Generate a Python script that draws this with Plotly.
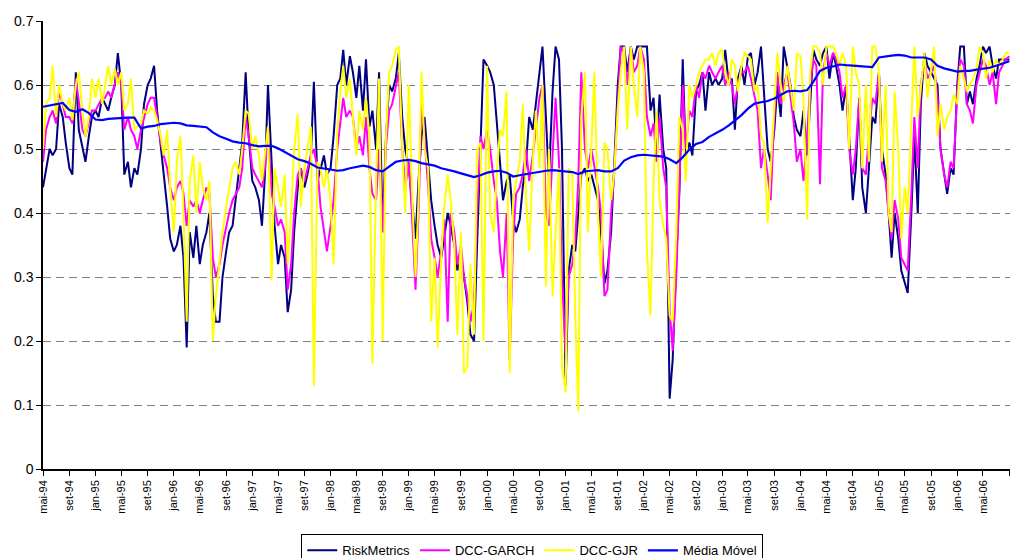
import pandas as pd
import plotly.graph_objects as go

# semi-monthly sampling dates (1st and 15th), mai-94 .. set-06
dates = pd.date_range("1994-05-01", periods=297, freq="SMS")
ma_dates = pd.date_range("1994-05-01", periods=149, freq="MS")

risk_metrics = [
    0.44, 0.47, 0.50, 0.49, 0.50, 0.57, 0.55, 0.51,
    0.47, 0.46, 0.62, 0.53, 0.50, 0.48, 0.52, 0.55,
    0.56, 0.55, 0.58, 0.57, 0.56, 0.58, 0.60, 0.65,
    0.60, 0.46, 0.48, 0.44, 0.47, 0.46, 0.50, 0.57,
    0.60, 0.61, 0.63, 0.56, 0.50, 0.46, 0.41, 0.36,
    0.34, 0.35, 0.38, 0.33, 0.19, 0.37, 0.33, 0.38,
    0.32, 0.35, 0.37, 0.40, 0.27, 0.23, 0.23, 0.30,
    0.34, 0.37, 0.38, 0.42, 0.47, 0.51, 0.62, 0.52,
    0.45, 0.44, 0.42, 0.38, 0.46, 0.60, 0.48, 0.38,
    0.32, 0.35, 0.33, 0.245, 0.28, 0.37, 0.44, 0.47,
    0.44, 0.46, 0.49, 0.605, 0.45, 0.47, 0.49, 0.46,
    0.47, 0.52, 0.60, 0.61, 0.655, 0.60, 0.645, 0.62,
    0.58, 0.63, 0.56, 0.64, 0.535, 0.56, 0.50, 0.62,
    0.37, 0.51, 0.60, 0.59, 0.61, 0.65, 0.55, 0.50,
    0.47, 0.42, 0.36, 0.45, 0.52, 0.55, 0.47, 0.42,
    0.38, 0.35, 0.33, 0.36, 0.40, 0.38, 0.35, 0.31,
    0.33, 0.30, 0.26, 0.21, 0.20, 0.35, 0.50, 0.64,
    0.63, 0.62, 0.60, 0.54, 0.47, 0.42, 0.45, 0.46,
    0.39, 0.37, 0.39, 0.44, 0.48, 0.55, 0.53, 0.57,
    0.62, 0.66, 0.55, 0.45, 0.59, 0.66, 0.64, 0.50,
    0.13, 0.31, 0.35, 0.34, 0.40, 0.46, 0.47, 0.45,
    0.46, 0.44, 0.42, 0.37, 0.29, 0.31, 0.37, 0.47,
    0.60, 0.66, 0.66, 0.62, 0.66, 0.64, 0.66, 0.66,
    0.66, 0.66, 0.56, 0.58, 0.50, 0.585, 0.50, 0.47,
    0.11, 0.17, 0.33, 0.43, 0.64, 0.49, 0.51, 0.49,
    0.59, 0.60, 0.62, 0.56, 0.62, 0.60, 0.61, 0.60,
    0.61, 0.655, 0.60, 0.61, 0.53, 0.61, 0.63, 0.60,
    0.645, 0.65, 0.60, 0.62, 0.66, 0.58, 0.50, 0.48,
    0.53, 0.60, 0.55, 0.66, 0.63, 0.60, 0.55, 0.53,
    0.52, 0.56, 0.49, 0.58, 0.655, 0.64, 0.63, 0.65,
    0.66, 0.61, 0.65, 0.63, 0.60, 0.56, 0.60, 0.52,
    0.42, 0.47, 0.58, 0.44, 0.40, 0.47, 0.55, 0.54,
    0.62, 0.50, 0.46, 0.40, 0.33, 0.40, 0.36, 0.31,
    0.29, 0.275, 0.40, 0.52, 0.40, 0.57, 0.65, 0.63,
    0.62, 0.61, 0.60, 0.50, 0.46, 0.43, 0.47, 0.46,
    0.60, 0.66, 0.66, 0.57, 0.59, 0.57, 0.61, 0.63,
    0.66, 0.65, 0.66, 0.63, 0.61, 0.64, 0.64, 0.64,
    0.64,
]

dcc_garch = [
    0.48, 0.53, 0.55, 0.56, 0.54, 0.59, 0.57, 0.55,
    0.55, 0.54, 0.61, 0.57, 0.53, 0.52, 0.54, 0.56,
    0.56, 0.57, 0.58, 0.58, 0.59, 0.58, 0.60, 0.62,
    0.60, 0.53, 0.55, 0.53, 0.52, 0.50, 0.53, 0.55,
    0.57, 0.58, 0.58, 0.55, 0.51, 0.49, 0.47, 0.44,
    0.42, 0.44, 0.45, 0.43, 0.38, 0.42, 0.41, 0.42,
    0.40, 0.42, 0.44, 0.43, 0.33, 0.30, 0.32, 0.35,
    0.38, 0.40, 0.42, 0.43, 0.44, 0.47, 0.55, 0.52,
    0.47, 0.46, 0.45, 0.44, 0.47, 0.53, 0.43, 0.41,
    0.38, 0.39, 0.37, 0.28, 0.32, 0.40, 0.46, 0.47,
    0.45, 0.47, 0.49, 0.50, 0.47, 0.41, 0.37, 0.34,
    0.38, 0.42, 0.50, 0.54, 0.58, 0.55, 0.56, 0.55,
    0.50, 0.52, 0.49, 0.55, 0.47, 0.43, 0.42, 0.50,
    0.37, 0.50, 0.56, 0.57, 0.60, 0.62, 0.50, 0.44,
    0.48, 0.40, 0.28, 0.40, 0.57, 0.52, 0.44, 0.36,
    0.33, 0.30, 0.34, 0.39, 0.23, 0.40, 0.37, 0.32,
    0.35, 0.30, 0.27, 0.23, 0.26, 0.40, 0.52, 0.50,
    0.53, 0.50, 0.45, 0.42, 0.34, 0.30, 0.40, 0.17,
    0.36, 0.43, 0.44, 0.46, 0.50, 0.45, 0.49, 0.53,
    0.58, 0.60, 0.40, 0.38, 0.50, 0.58, 0.48, 0.30,
    0.18, 0.30, 0.32, 0.36, 0.45, 0.62, 0.50, 0.47,
    0.50, 0.47, 0.44, 0.40, 0.27, 0.28, 0.40, 0.46,
    0.58, 0.66, 0.65, 0.60, 0.66, 0.62, 0.63, 0.66,
    0.64, 0.55, 0.52, 0.54, 0.48, 0.55, 0.47, 0.44,
    0.25, 0.185, 0.30, 0.45, 0.60, 0.50, 0.56, 0.55,
    0.60, 0.58, 0.62, 0.61, 0.63, 0.62, 0.61, 0.62,
    0.63, 0.60, 0.62, 0.60, 0.57, 0.60, 0.62, 0.62,
    0.63, 0.61, 0.58, 0.56, 0.47, 0.50, 0.46, 0.42,
    0.55, 0.62, 0.57, 0.60, 0.62, 0.58, 0.54, 0.48,
    0.50, 0.45, 0.52, 0.60, 0.64, 0.63, 0.445, 0.62,
    0.65, 0.63, 0.65, 0.64, 0.62, 0.58, 0.60, 0.50,
    0.46, 0.50, 0.58, 0.47, 0.46, 0.52, 0.58, 0.57,
    0.62, 0.47, 0.45, 0.40, 0.36, 0.42, 0.39, 0.33,
    0.32, 0.31, 0.43, 0.55, 0.47, 0.60, 0.64, 0.61,
    0.62, 0.63, 0.58, 0.50, 0.46, 0.44, 0.48, 0.47,
    0.59, 0.64, 0.63, 0.57, 0.56, 0.54, 0.60, 0.62,
    0.64, 0.63, 0.60, 0.62, 0.57, 0.62, 0.63, 0.64,
    0.645,
]

dcc_gjr = [
    0.50, 0.57, 0.58, 0.63, 0.55, 0.60, 0.57, 0.56,
    0.58, 0.545, 0.60, 0.62, 0.56, 0.52, 0.55, 0.61,
    0.58, 0.61, 0.57, 0.60, 0.63, 0.60, 0.625, 0.60,
    0.62, 0.56, 0.57, 0.61, 0.53, 0.535, 0.54, 0.56,
    0.555, 0.565, 0.56, 0.545, 0.52, 0.49, 0.53, 0.44,
    0.37, 0.48, 0.52, 0.40, 0.23, 0.45, 0.49, 0.40,
    0.48, 0.44, 0.42, 0.45, 0.20, 0.27, 0.33, 0.37,
    0.41, 0.44, 0.47, 0.48, 0.46, 0.50, 0.56, 0.555,
    0.50, 0.52, 0.49, 0.45, 0.49, 0.535, 0.295, 0.47,
    0.44, 0.41, 0.46, 0.32, 0.40, 0.50, 0.555, 0.41,
    0.47, 0.50, 0.535, 0.13, 0.48, 0.47, 0.44, 0.47,
    0.42, 0.32, 0.525, 0.59, 0.63, 0.58, 0.61, 0.55,
    0.49, 0.56, 0.53, 0.58, 0.52, 0.165, 0.45, 0.61,
    0.20, 0.51, 0.62, 0.63, 0.655, 0.66, 0.50, 0.40,
    0.60, 0.44, 0.30, 0.42, 0.62, 0.50, 0.47, 0.23,
    0.33, 0.19, 0.33, 0.41, 0.46, 0.42, 0.35, 0.21,
    0.37, 0.15, 0.16, 0.32, 0.21, 0.50, 0.51, 0.20,
    0.63, 0.40, 0.37, 0.46, 0.53, 0.52, 0.59, 0.15,
    0.42, 0.45, 0.48, 0.57, 0.42, 0.34, 0.48, 0.56,
    0.47, 0.60, 0.285, 0.50, 0.27, 0.37, 0.47, 0.16,
    0.12, 0.47, 0.46, 0.24, 0.09, 0.55, 0.62, 0.37,
    0.50, 0.62, 0.40, 0.30, 0.51, 0.50, 0.42, 0.46,
    0.56, 0.62, 0.66, 0.53, 0.66, 0.60, 0.55, 0.66,
    0.62, 0.34, 0.24, 0.45, 0.56, 0.42, 0.38, 0.36,
    0.24, 0.23, 0.37, 0.55, 0.53, 0.45, 0.60, 0.58,
    0.60, 0.62, 0.63, 0.64, 0.64, 0.65, 0.63, 0.65,
    0.655, 0.62, 0.60, 0.64, 0.63, 0.59, 0.63, 0.65,
    0.645, 0.64, 0.59, 0.60, 0.52, 0.51, 0.385, 0.47,
    0.58, 0.65, 0.60, 0.575, 0.63, 0.60, 0.56, 0.65,
    0.645, 0.58, 0.39, 0.62, 0.66, 0.66, 0.65, 0.60,
    0.66, 0.66, 0.66, 0.65, 0.63, 0.65, 0.63, 0.50,
    0.66, 0.62, 0.60, 0.47, 0.60, 0.48, 0.66, 0.66,
    0.62, 0.48, 0.60, 0.40, 0.37, 0.59, 0.50, 0.36,
    0.44, 0.40, 0.55, 0.66, 0.55, 0.60, 0.65, 0.58,
    0.62, 0.66, 0.52, 0.57, 0.53, 0.55, 0.56, 0.585,
    0.57, 0.63, 0.61, 0.59, 0.60, 0.61, 0.625, 0.66,
    0.65, 0.61, 0.64, 0.62, 0.64, 0.63, 0.64, 0.65,
    0.65,
]

media_movel = [
    0.566, 0.568, 0.571, 0.572, 0.561, 0.558, 0.562, 0.556, 0.546, 0.545, 0.547, 0.548,
    0.548, 0.549, 0.549, 0.532, 0.535, 0.536, 0.539, 0.540, 0.541, 0.540, 0.537, 0.536,
    0.535, 0.534, 0.526, 0.520, 0.516, 0.512, 0.510, 0.509, 0.506, 0.504, 0.505, 0.505,
    0.501, 0.495, 0.489, 0.484, 0.481, 0.477, 0.471, 0.470, 0.468, 0.466, 0.467, 0.470,
    0.472, 0.474, 0.472, 0.467, 0.465, 0.472, 0.480, 0.482, 0.483, 0.481, 0.478, 0.476,
    0.474, 0.470, 0.468, 0.465, 0.462, 0.459, 0.456, 0.459, 0.463, 0.465, 0.466, 0.463,
    0.457, 0.459, 0.461, 0.462, 0.464, 0.466, 0.467, 0.466, 0.465, 0.464, 0.461, 0.465,
    0.466, 0.467, 0.465, 0.465, 0.470, 0.482, 0.487, 0.490, 0.491, 0.490, 0.489, 0.488,
    0.484, 0.478, 0.487, 0.499, 0.508, 0.511, 0.519, 0.524, 0.530, 0.537, 0.544, 0.553,
    0.563, 0.571, 0.573, 0.575, 0.579, 0.585, 0.590, 0.591, 0.590, 0.592, 0.605, 0.622,
    0.627, 0.629, 0.632, 0.631, 0.630, 0.630, 0.629, 0.628, 0.643, 0.645, 0.646, 0.647,
    0.646, 0.643, 0.643, 0.643, 0.640, 0.630, 0.626, 0.623, 0.621, 0.622, 0.622, 0.624,
    0.625, 0.627, 0.630, 0.634, 0.637,
]

tick_labels = [
    "mai-94", "set-94", "jan-95", "mai-95", "set-95", "jan-96", "mai-96", "set-96",
    "jan-97", "mai-97", "set-97", "jan-98", "mai-98", "set-98", "jan-99", "mai-99",
    "set-99", "jan-00", "mai-00", "set-00", "jan-01", "mai-01", "set-01", "jan-02",
    "mai-02", "set-02", "jan-03", "mai-03", "set-03", "jan-04", "mai-04", "set-04",
    "jan-05", "mai-05", "set-05", "jan-06", "mai-06", "set-06",
]
y_ticks = [0, 0.1, 0.2, 0.3, 0.4, 0.5, 0.6, 0.7]
y_tick_labels = ["0", "0.1", "0.2", "0.3", "0.4", "0.5", "0.6", "0.7"]

month_num = {"jan": 1, "mai": 5, "set": 9}
tick_dates = []
for t in tick_labels:
    yy = int(t[4:])
    year = 2000 + yy if yy < 50 else 1900 + yy
    tick_dates.append(pd.Timestamp(year, month_num[t[:3]], 1))

fig = go.Figure()
fig.add_trace(go.Scatter(x=dates, y=risk_metrics, mode="lines", name="RiskMetrics",
                         line=dict(color="#000080", width=2)))
fig.add_trace(go.Scatter(x=dates, y=dcc_garch, mode="lines", name="DCC-GARCH",
                         line=dict(color="#FF00FF", width=2)))
fig.add_trace(go.Scatter(x=dates, y=dcc_gjr, mode="lines", name="DCC-GJR",
                         line=dict(color="#FFFF00", width=2)))
fig.add_trace(go.Scatter(x=ma_dates, y=media_movel, mode="lines", name="Média Móvel",
                         line=dict(color="#0000FF", width=2.2)))

fig.update_layout(
    width=1010, height=558,
    margin=dict(l=43, r=0, t=21, b=89, autoexpand=False),
    paper_bgcolor="white", plot_bgcolor="white",
    font=dict(family="Arial, Liberation Sans, sans-serif", size=11, color="black"),
    showlegend=True,
    legend=dict(orientation="h", x=0.506, xanchor="center", y=-0.146, yanchor="top",
                bordercolor="black", borderwidth=1, bgcolor="white",
                font=dict(size=13), itemwidth=30, tracegroupgap=0),
    hovermode=False,
)
fig.update_xaxes(
    type="date", range=["1994-05-01", "2006-09-04"], automargin=False,
    tickmode="array", tickvals=tick_dates, ticktext=tick_labels, tickangle=-90,
    showline=True, linecolor="black", linewidth=1.5,
    ticks="outside", ticklen=5, tickcolor="black",
    showgrid=False, zeroline=False, tickfont=dict(size=11),
)
fig.update_yaxes(
    range=[0, 0.7], automargin=False,
    tickmode="array", tickvals=y_ticks, ticktext=y_tick_labels,
    showline=True, linecolor="black", linewidth=1.5,
    ticks="outside", ticklen=5, tickcolor="black",
    showgrid=True, gridcolor="#808080", gridwidth=1.3, griddash="8px,5px",
    zeroline=False, tickfont=dict(size=14),
)

fig.write_html(
    "out.html",
    config={"displayModeBar": False},
    post_script="document.body.style.margin='0';document.body.style.overflow='hidden';",
)
